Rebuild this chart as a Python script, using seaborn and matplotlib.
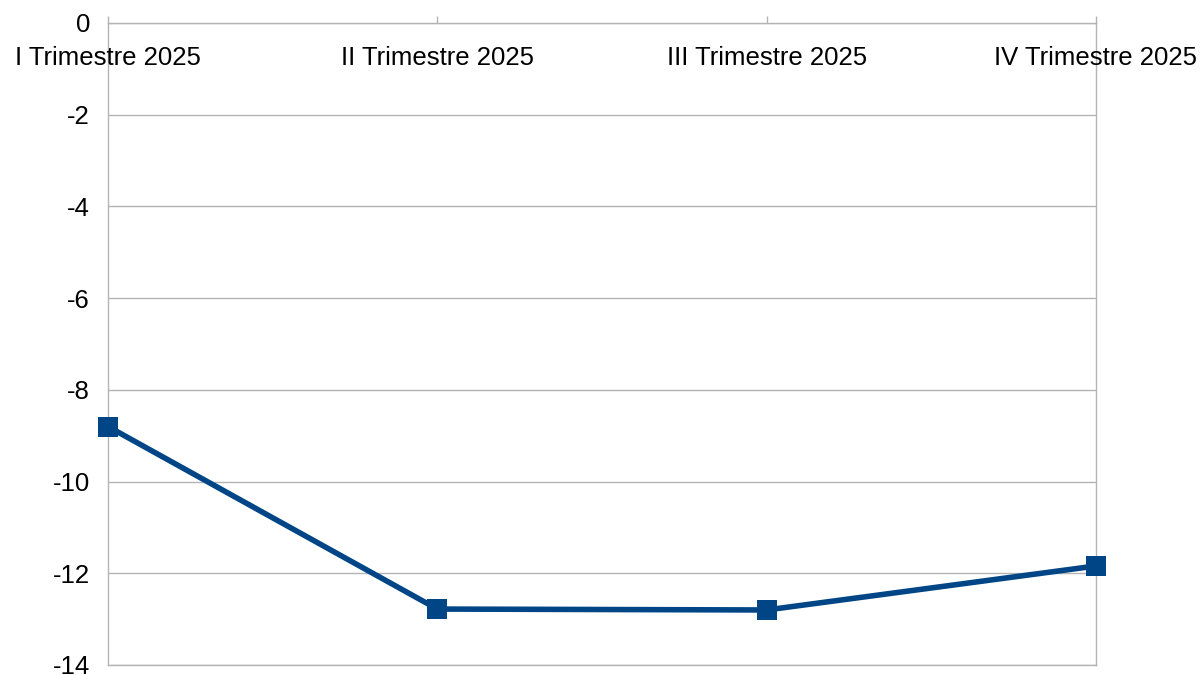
import matplotlib
matplotlib.use("Agg")
import matplotlib.pyplot as plt
import seaborn as sns
import pandas as pd

# data
trimestri = ["I Trimestre 2025", "II Trimestre 2025", "III Trimestre 2025", "IV Trimestre 2025"]
valori = [-8.8, -12.78, -12.8, -11.84]
y_ticks = [0, -2, -4, -6, -8, -10, -12, -14]

df = pd.DataFrame({"trimestre": trimestri, "valore": valori})

sns.set_style("white")
plt.rcParams["font.family"] = ["Liberation Sans", "DejaVu Sans"]

grey = "#b3b3b3"
blue = "#004586"

fig = plt.figure(figsize=(12.01, 6.75), dpi=100)
ax = fig.add_axes([108 / 1201, 10 / 675, (1096 - 108) / 1201, (665 - 23) / 675])

sns.lineplot(data=df, x="trimestre", y="valore", ax=ax, color=blue,
             linewidth=4, marker="s", markersize=14, markeredgewidth=0,
             sort=False, clip_on=False, zorder=5)

ax.set_xlim(0, len(trimestri) - 1)
ax.set_ylim(-14, 0)
ax.set_yticks(y_ticks)
ax.set_yticklabels([str(v) for v in y_ticks], fontsize=18.5, color="black")
ax.set_xlabel("")
ax.set_ylabel("")

# category axis sits at y=0 (top), ticks pointing up, labels below the line
ax.xaxis.tick_top()
ax.set_xticks(range(len(trimestri)))
ax.set_xticklabels([])
ax.tick_params(axis="x", direction="out", length=5, color=grey, width=1)
ax.tick_params(axis="y", direction="out", length=8, color=grey, width=1, pad=5)

for i, lab in enumerate(trimestri):
    ax.text(i, 1 - 35 / 642, lab, transform=ax.get_xaxis_transform(),
            ha="center", va="center", fontsize=18.5, color="black", clip_on=False)

ax.grid(axis="y", color=grey, linewidth=1)
ax.grid(axis="x", visible=False)
for side in ["left", "right", "top", "bottom"]:
    ax.spines[side].set_visible(True)
    ax.spines[side].set_color(grey)
    ax.spines[side].set_linewidth(1)

fig.savefig("out.png", dpi=100)
